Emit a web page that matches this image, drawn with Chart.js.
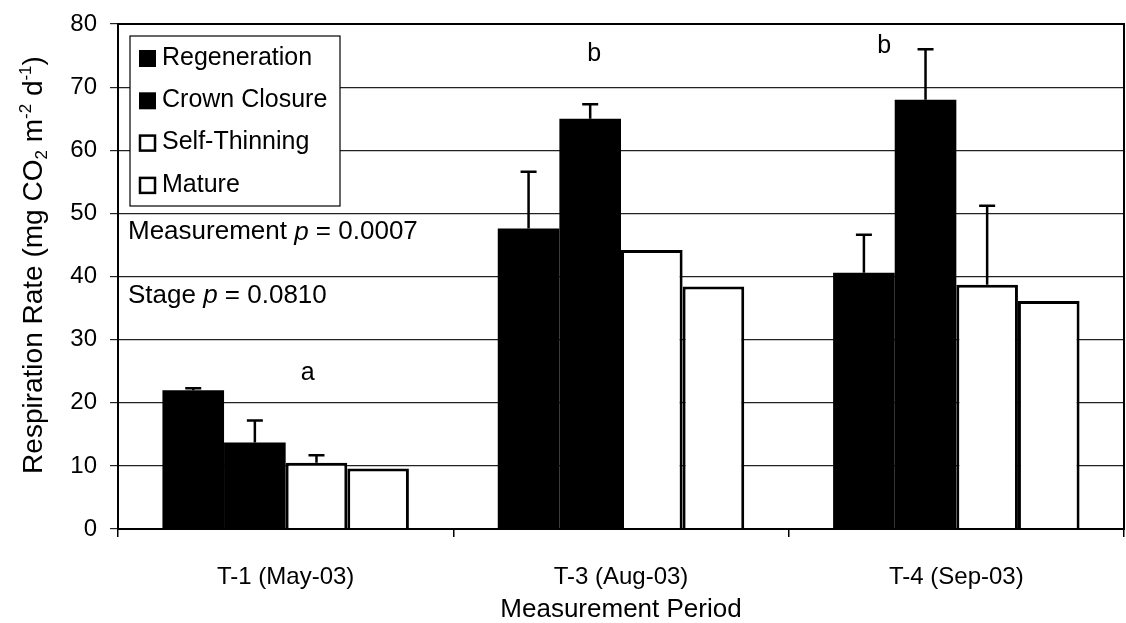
<!DOCTYPE html>
<html>
<head>
<meta charset="utf-8">
<script src="https://cdn.jsdelivr.net/npm/chart.js@4"></script>
<style>
    html, body { margin: 0; padding: 0; background: #fff; }
    #wrap { width: 1126px; height: 623px; position: relative; }
</style>
</head>
<body>
<div id="wrap"><canvas id="chart"></canvas></div>
<script>
const periods = ["T-1 (May-03)", "T-3 (Aug-03)", "T-4 (Sep-03)"];
const stages = ["Regeneration", "Crown Closure", "Self-Thinning", "Mature"];

const regeneration = [22.0, 47.6, 40.6];
const crownClosure = [13.7, 65.0, 68.0];
const selfThinning = [10.5, 44.2, 38.7];
const mature = [9.6, 38.4, 36.1];

// standard error (upper bar only)
const regenerationErr = [0.3, 9.0, 6.0];
const crownClosureErr = [3.5, 2.3, 8.0];
const selfThinningErr = [1.2, 0, 12.5];
const matureErr = [0, 0, 0];

// group letters: [text, period index, x offset in category widths, y value]
const letters = [["a", 0, 0.066, 24.7], ["b", 1, -0.08, 75.2], ["b", 2, -0.215, 76.5]];
const stats = ["Measurement p = 0.0007", "Stage p = 0.0810"];
const statY = [47.0, 36.9];

// y-axis title pieces: [text, "sub" | "sup" | ""]
const yTitle = [["Respiration Rate (mg CO", ""], ["2", "sub"], [" m", ""], ["-2", "sup"], [" d", ""], ["-1", "sup"], [")", ""]];

const FONT = "'Liberation Sans', Arial, sans-serif";

const $chart = document.getElementById("chart");
const ctx = $chart.getContext("2d");

function bar(label, data, err, filled) {
    return {
        label: label,
        data: data,
        err: err,
        backgroundColor: filled ? "#000" : "#fff",
        borderColor: "#000",
        borderWidth: filled ? 0 : 3,
        borderSkipped: "bottom",
        categoryPercentage: 0.735,
        barPercentage: 1.0,
    };
}

const extras = {
    id: "extras",
    afterDatasetsDraw(chart) {
        const c = chart.ctx;
        const area = chart.chartArea;
        const x = chart.scales.x;
        const y = chart.scales.y;

        // error bars
        c.save();
        c.strokeStyle = "#000";
        c.lineWidth = 2.5;
        chart.data.datasets.forEach((ds, i) => {
            const meta = chart.getDatasetMeta(i);
            meta.data.forEach((el, j) => {
                const e = ds.err[j];
                if (!e) return;
                const top = y.getPixelForValue(ds.data[j] + e);
                c.beginPath();
                c.moveTo(el.x, el.y);
                c.lineTo(el.x, top);
                c.moveTo(el.x - 8, top);
                c.lineTo(el.x + 8, top);
                c.stroke();
            });
        });

        // frame
        c.lineWidth = 2;
        c.strokeRect(area.left, area.top, area.right - area.left, area.bottom - area.top);

        // letters
        const catW = (area.right - area.left) / periods.length;
        c.fillStyle = "#000";
        c.font = "25px " + FONT;
        c.textAlign = "center";
        c.textBaseline = "middle";
        letters.forEach(([t, i, dx, v]) => {
            c.fillText(t, x.getPixelForValue(i) + dx * catW, y.getPixelForValue(v));
        });

        // p-values with italic p
        c.textAlign = "left";
        stats.forEach((s, k) => {
            const parts = s.split(" p ");
            let px = area.left + 10;
            const py = y.getPixelForValue(statY[k]);
            c.font = "26px " + FONT;
            c.fillText(parts[0] + " ", px, py);
            px += c.measureText(parts[0] + " ").width;
            c.font = "italic 26px " + FONT;
            c.fillText("p", px, py);
            px += c.measureText("p").width;
            c.font = "26px " + FONT;
            c.fillText(" " + parts[1], px, py);
        });

        // legend box
        const lx = area.left + 12, ly = area.top + 12, lw = 210, lh = 170;
        c.fillStyle = "#fff";
        c.fillRect(lx, ly, lw, lh);
        c.lineWidth = 1.2;
        c.strokeRect(lx, ly, lw, lh);
        c.font = "25px " + FONT;
        chart.data.datasets.forEach((ds, i) => {
            const cy = ly + 22 + i * 42.3;
            if (ds.borderWidth === 0) {
                c.fillStyle = "#000";
                c.fillRect(lx + 9, cy - 8, 17, 17);
            } else {
                c.lineWidth = 2.5;
                c.strokeRect(lx + 10, cy - 7, 15, 15);
            }
            c.fillStyle = "#000";
            c.fillText(ds.label, lx + 32, cy);
        });

        // rotated y-axis title with sub/superscripts
        const big = "28px " + FONT, small = "17px " + FONT;
        let total = 0;
        yTitle.forEach(([t, k]) => {
            c.font = k ? small : big;
            total += c.measureText(t).width;
        });
        c.translate(32, 265);
        c.rotate(-Math.PI / 2);
        c.textBaseline = "alphabetic";
        let tx = -total / 2;
        yTitle.forEach(([t, k]) => {
            c.font = k ? small : big;
            const dy = k === "sub" ? 5 : k === "sup" ? -11 : 0;
            c.fillText(t, tx, 10 + dy);
            tx += c.measureText(t).width;
        });
        c.restore();
    },
};

new Chart(ctx, {
    type: "bar",
    data: {
        labels: periods,
        datasets: [
            bar(stages[0], regeneration, regenerationErr, true),
            bar(stages[1], crownClosure, crownClosureErr, true),
            bar(stages[2], selfThinning, selfThinningErr, false),
            bar(stages[3], mature, matureErr, false),
        ],
    },
    options: {
        responsive: true,
        maintainAspectRatio: false,
        animation: false,
        layout: { padding: { top: 24, right: 2, left: 0, bottom: 0 } },
        plugins: {
            legend: { display: false },
            tooltip: { enabled: false },
        },
        scales: {
            x: {
                offset: true,
                afterFit: (s) => { s.height = 94; },
                grid: {
                    offset: true,
                    drawOnChartArea: false,
                    drawTicks: true,
                    tickLength: 8,
                    color: "#000",
                    lineWidth: 1.5,
                },
                border: { color: "#000", width: 2 },
                ticks: {
                    color: "#000",
                    font: { family: FONT, size: 24 },
                    padding: 26,
                },
                title: {
                    display: true,
                    text: "Measurement Period",
                    color: "#000",
                    font: { family: FONT, size: 26, lineHeight: 1.0 },
                    padding: { top: 8, bottom: 0 },
                },
            },
            y: {
                min: 0,
                max: 80,
                afterFit: (s) => { s.width = 118; s.paddingTop = 0; },
                ticks: {
                    stepSize: 10,
                    color: "#000",
                    font: { family: FONT, size: 24, lineHeight: 1.0 },
                    padding: 13,
                },
                grid: {
                    color: "#222",
                    lineWidth: 1.2,
                    tickLength: 8,
                },
                border: { color: "#000", width: 2 },
            },
        },
    },
    plugins: [extras],
});
</script>
</body>
</html>
